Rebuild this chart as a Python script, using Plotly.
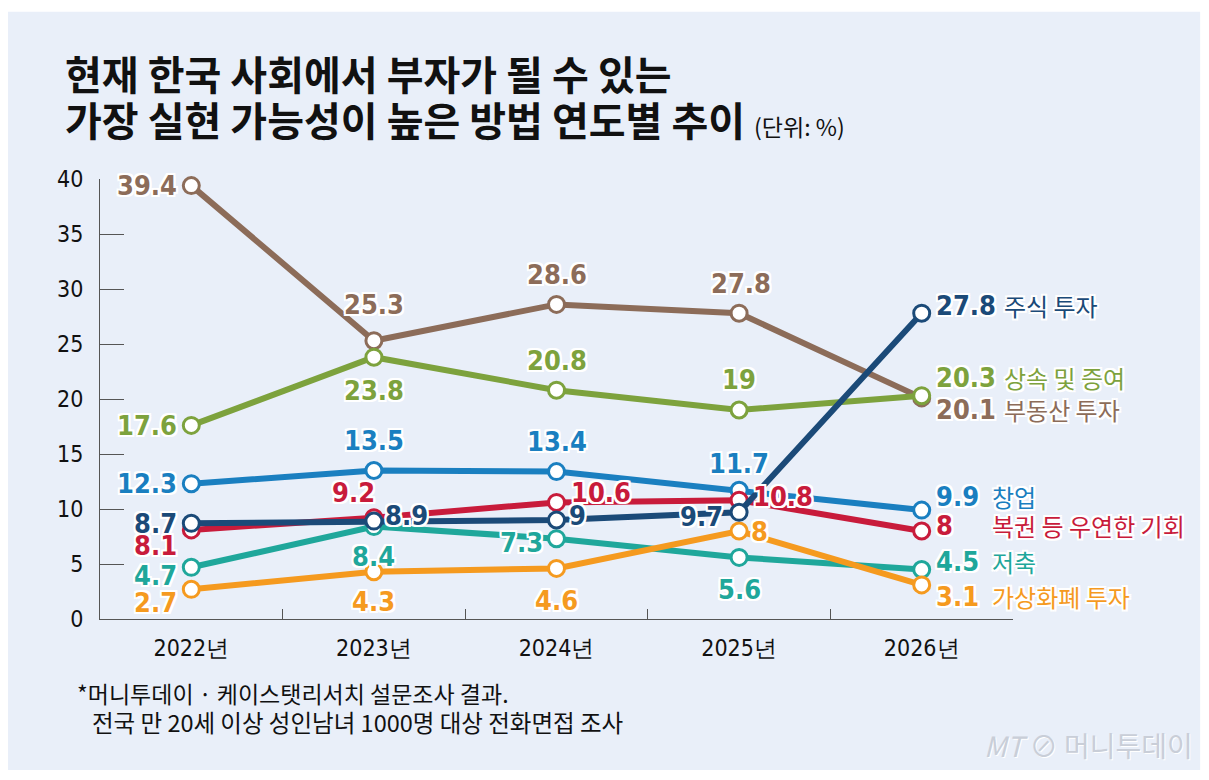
import plotly.graph_objects as go

# --------------------- data ---------------------------------------
years = ['2022년', '2023년', '2024년', '2025년', '2026년']

names = ['부동산 투자', '상속 및 증여', '저축', '가상화폐 투자', '창업', '복권 등 우연한 기회', '주식 투자']
realestate = [39.4, 25.3, 28.6, 27.8, 20.1]
inherit = [17.6, 23.8, 20.8, 19, 20.3]
savings = [4.7, 8.4, 7.3, 5.6, 4.5]
crypto = [2.7, 4.3, 4.6, 8, 3.1]
startup = [12.3, 13.5, 13.4, 11.7, 9.9]
lottery = [8.1, 9.2, 10.6, 10.8, 8]
stocks = [8.7, 8.9, 9, 9.7, 27.8]

series = [realestate, inherit, savings, crypto, startup, lottery, stocks]
colors = ['#8c6c59', '#7da23d', '#1fa79b', '#f59a1f', '#1a7fc0', '#c81b3b', '#1b4a78']

# label placement per point: (xanchor, xshift, yshift)
places = [
    [('right', -12, 0), ('center', 0, 36), ('center', 0, 30), ('center', 2, 30), ('left', 12, -12)],
    [('right', -12, 0), ('center', 0, -33), ('center', 0, 30), ('center', 0, 31), ('left', 12, 18)],
    [('right', -12, -8), ('center', 0, -30), ('right', -12, -4), ('center', 0, -32), ('left', 12, 8)],
    [('right', -12, -13), ('center', 0, -30), ('center', 0, -32), ('left', 10, 0), ('left', 12, -12)],
    [('right', -12, 0), ('center', 0, 30), ('center', 0, 30), ('center', 0, 27), ('left', 12, 14)],
    [('right', -12, -16), ('center', -20, 25), ('left', 12, 10), ('left', 12, 4), ('left', 12, 6)],
    [('right', -12, 0), ('left', 9, 6), ('left', 10, 5), ('right', -14, -4), ('left', 12, 8)],
]
name_shift = [80, 80, 68, 68, 68, 68, 80]

halo = ('2px 2px 0 #fff, -2px -2px 0 #fff, 2px -2px 0 #fff, -2px 2px 0 #fff, '
        '0 2px 0 #fff, 2px 0 0 #fff, 0 -2px 0 #fff, -2px 0 0 #fff, 0 0 3px #fff')
num_font = 'DejaVu Sans Condensed, Liberation Sans Narrow, Liberation Sans, sans-serif'
kr_font = 'Noto Sans CJK KR, sans-serif'

fig = go.Figure()

for vals, col in zip(series, colors):
    fig.add_trace(go.Scatter(x=years, y=vals, mode='lines+markers',
                             line=dict(color=col, width=6),
                             marker=dict(symbol='circle', size=16, color='white',
                                         line=dict(color=col, width=3)),
                             cliponaxis=False, hoverinfo='skip'))

annotations = []
for vals, col, pl, nm, ns in zip(series, colors, places, names, name_shift):
    for i, v in enumerate(vals):
        xa, dx, dy = pl[i]
        annotations.append(dict(x=years[i], y=v, text=f'<b>{v:g}</b>', showarrow=False,
                                xanchor=xa, yanchor='middle', xshift=dx, yshift=dy,
                                font=dict(family=num_font, size=27, color=col, shadow=halo)))
    annotations.append(dict(x=years[-1], y=vals[-1], text=nm, showarrow=False,
                            xanchor='left', yanchor='middle', xshift=ns, yshift=pl[-1][2],
                            font=dict(family=kr_font, size=24, color=col, shadow=halo)))

# title, unit, footnote, logo
annotations.append(dict(xref='paper', yref='paper', x=-0.0405, y=1.241, xanchor='left', yanchor='middle',
                        showarrow=False, text='<b>현재 한국 사회에서 부자가 될 수 있는</b>',
                        font=dict(family=kr_font, size=40, color='#111')))
annotations.append(dict(xref='paper', yref='paper', x=-0.0405, y=1.137, xanchor='left', yanchor='middle',
                        showarrow=False,
                        text='<b>가장 실현 가능성이 높은 방법 연도별 추이</b>'
                             ' <span style="font-size:23px">(단위: %)</span>',
                        font=dict(family=kr_font, size=40, color='#111')))
annotations.append(dict(xref='paper', yref='paper', x=-0.0274, y=-0.168, xanchor='left', yanchor='middle',
                        showarrow=False, text='*머니투데이 · 케이스탯리서치 설문조사 결과.',
                        font=dict(family=kr_font, size=23, color='#111')))
annotations.append(dict(xref='paper', yref='paper', x=-0.011, y=-0.234, xanchor='left', yanchor='middle',
                        showarrow=False, text='전국 만 20세 이상 성인남녀 1000명 대상 전화면접 조사',
                        font=dict(family=kr_font, size=23.5, color='#111')))
annotations.append(dict(xref='paper', yref='paper', x=1.199, y=-0.286, xanchor='right', yanchor='middle',
                        showarrow=False, text='<i>MT</i> ⊘ 머니투데이',
                        font=dict(family=kr_font, size=28, color='#c9ced8',
                                  shadow='1px 1px 0 #fff')))

# the page adds an 8px body margin, so margins are set to keep the plot at the reference pixels
fig.update_layout(
    width=1209, height=780,
    margin=dict(l=92, r=204, t=171, b=169),
    paper_bgcolor='white',
    plot_bgcolor='rgba(0,0,0,0)',
    showlegend=False,
    annotations=annotations,
    shapes=[dict(type='rect', xref='paper', yref='paper', x0=-0.104, x1=1.205, y0=-0.343, y1=1.38,
                 fillcolor='#e9eff9', line=dict(width=0), layer='below')],
    xaxis=dict(type='category', range=[-0.5, 4.5], showgrid=False, zeroline=False,
               showline=True, linecolor='#555', linewidth=1,
               tickson='boundaries', ticks='inside', ticklen=10, tickcolor='#555',
               ticklabelstandoff=8,
               tickfont=dict(family=num_font, size=23, color='#111')),
    yaxis=dict(range=[0, 40], tickvals=[0, 5, 10, 15, 20, 25, 30, 35, 40],
               showgrid=False, zeroline=False, showline=True, linecolor='#555', linewidth=1,
               ticks='inside', ticklen=24, tickcolor='#555', ticklabelstandoff=11,
               tickfont=dict(family=num_font, size=23, color='#111')),
)

fig.write_html('out.html')
